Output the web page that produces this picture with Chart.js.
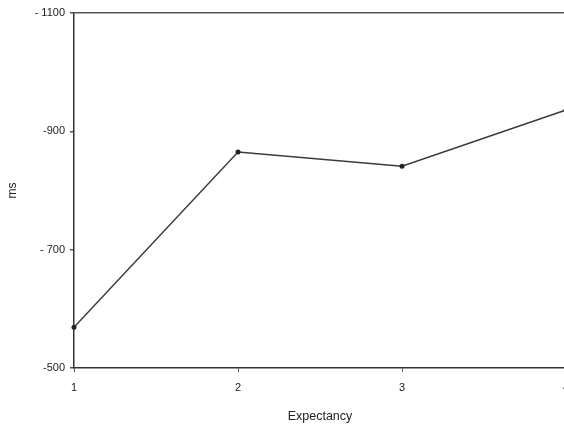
<!DOCTYPE html>
<html>
<head>
<meta charset="utf-8">
<script src="https://cdn.jsdelivr.net/npm/chart.js@4"></script>
<style>
  html, body { margin: 0; padding: 0; background: #fff; overflow: hidden; }
  #wrap { width: 580px; height: 430px; position: relative; }
</style>
</head>
<body>
<div id="wrap"><canvas id="c"></canvas></div>
<script>
const categories = [1, 2, 3, 4];
const msValues = [569, 865, 841, 936];
const yTickValues = [500, 700, 900, 1100];
const yTickLabels = ['-500', '- 700', '-900', '- 1100'];
const xAxisTitle = 'Expectancy';
const yAxisTitle = 'ms';

const ink = '#222';
const font = { family: '"Liberation Sans", Arial, sans-serif', size: 11 };

new Chart(document.getElementById('c'), {
  type: 'line',
  data: {
    datasets: [{
      data: categories.map((c, i) => ({ x: c, y: msValues[i] })),
      borderColor: '#3a3a3a',
      borderWidth: 1.4,
      backgroundColor: '#222',
      pointRadius: 2.5,
      pointBorderWidth: 0,
      tension: 0,
      fill: false,
      clip: false
    }]
  },
  options: {
    responsive: true,
    maintainAspectRatio: false,
    animation: false,
    devicePixelRatio: 1,
    layout: { padding: { top: 13, right: 14, left: 0, bottom: 0 } },
    plugins: { legend: { display: false }, tooltip: { enabled: false } },
    scales: {
      x: {
        type: 'linear',
        min: 1, max: 4,
        afterFit: s => { s.height = 62; },
        afterBuildTicks: s => { s.ticks = categories.map(v => ({ value: v })); },
        ticks: { color: ink, font: font, padding: 9, callback: v => String(v) },
        grid: { drawOnChartArea: false, tickLength: 4, color: '#555' },
        border: { color: '#333', width: 1.5 },
        title: { display: true, text: xAxisTitle, color: ink,
                 font: { family: font.family, size: 12.5 }, padding: { top: 0, bottom: 6 } }
      },
      y: {
        min: 500, max: 1100,
        afterFit: s => { s.width = 74; },
        afterBuildTicks: s => { s.ticks = yTickValues.map(v => ({ value: v })); },
        ticks: { color: ink, font: font, padding: 5,
                 callback: v => yTickLabels[yTickValues.indexOf(v)] },
        grid: {
          drawOnChartArea: true,
          tickLength: 4,
          color: ctx => (ctx.tick && ctx.tick.value === 1100) ? '#555' : 'rgba(0,0,0,0)',
          tickColor: '#555',
          lineWidth: 1.5
        },
        border: { color: '#333', width: 1.5 },
        title: { display: true, text: yAxisTitle, color: ink,
                 font: { family: font.family, size: 12 }, padding: { top: 5, bottom: 0 } }
      }
    }
  }
});
</script>
</body>
</html>
